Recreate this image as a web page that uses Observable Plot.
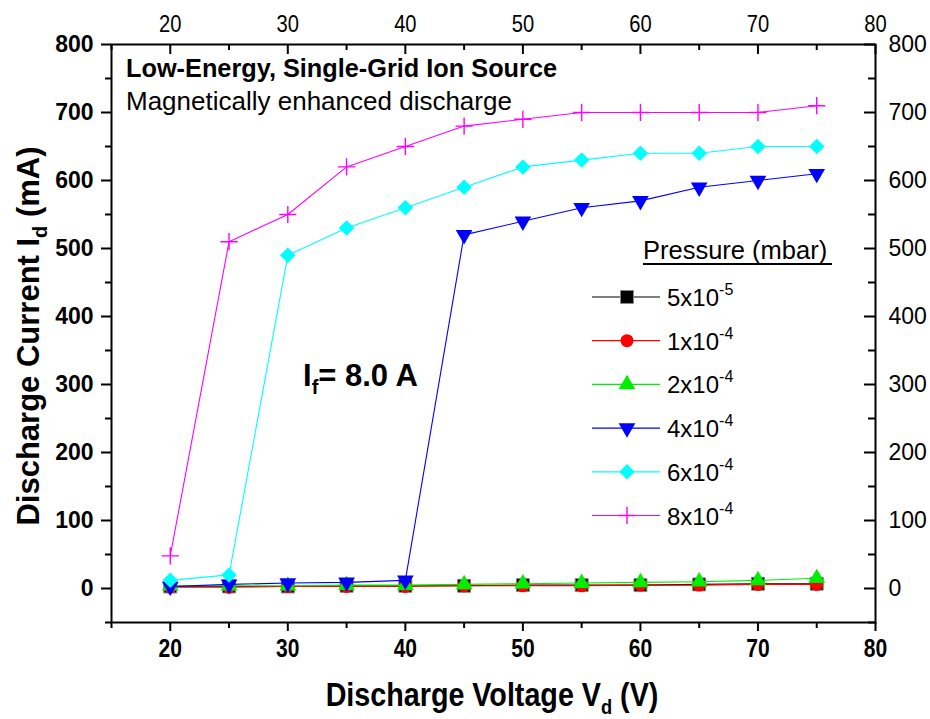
<!DOCTYPE html>
<html>
<head>
<meta charset="utf-8">
<script src="https://cdn.jsdelivr.net/npm/d3@7"></script>
<script src="https://cdn.jsdelivr.net/npm/@observablehq/plot@0.6"></script>
<style>
  html, body { margin: 0; padding: 0; background: #fff; }
  svg { display: block; }
</style>
</head>
<body>
<div id="chart"></div>
<script>
// ---------- data ----------
const voltages = [20, 25, 30, 35, 40, 45, 50, 55, 60, 65, 70, 75];
const p5e5 = [3, 3, 3, 4, 4, 4, 5, 5, 5, 6, 7, 7];
const p1e4 = [2, 2, 3, 3, 3, 4, 4, 4, 5, 5, 6, 6];
const p2e4 = [4, 4, 4, 5, 5, 6, 7, 8, 9, 10, 12, 15];
const p4e4 = [3, 6, 8, 9, 12, 520, 540, 560, 570, 590, 600, 610];
const p6e4 = [12, 20, 490, 530, 560, 590, 620, 630, 640, 640, 650, 650];
const p8e4 = [48, 510, 550, 620, 650, 680, 690, 700, 700, 700, 700, 710];

const seriesNames = ["5x10-5", "1x10-4", "2x10-4", "4x10-4", "6x10-4", "8x10-4"];
const seriesMant = ["5x10", "1x10", "2x10", "4x10", "6x10", "8x10"];
const seriesExp = ["-5", "-4", "-4", "-4", "-4", "-4"];
const seriesValues = [p5e5, p1e4, p2e4, p4e4, p6e4, p8e4];
const seriesColors = ["#000000", "#ff0000", "#00ee00", "#0000ff", "#00ffff", "#ff00ff"];

const xTicksMajor = [20, 30, 40, 50, 60, 70, 80];
const xTicksMinor = [15, 25, 35, 45, 55, 65, 75];
const yTicksMajor = [0, 100, 200, 300, 400, 500, 600, 700, 800];
const yTicksMinor = [-50, 50, 150, 250, 350, 450, 550, 650, 750];

// ---------- layout ----------
const W = 930, H = 719;
const mL = 111, mR = 55, mT = 44, mB = 97;
const frameW = W - mL - mR, frameH = H - mT - mB;
const font = "'Liberation Sans', Arial, sans-serif";

const rows = seriesValues.map((vals, i) =>
  vals.map((v, j) => ({x: voltages[j], y: v, s: i}))
);

const markerFor = (i, data) => {
  const c = seriesColors[i];
  switch (i) {
    case 0: return Plot.dot(data, {x: "x", y: "y", symbol: "square", r: 7.3, fill: c, stroke: "#888", strokeWidth: 1});
    case 1: return Plot.dot(data, {x: "x", y: "y", symbol: "circle", r: 6.5, fill: c});
    case 2: return Plot.dot(data, {x: "x", y: "y", symbol: "triangle", r: 6.2, fill: c});
    case 3: return Plot.dot(data, {x: "x", y: "y", symbol: "triangle", r: 6.2, fill: c, rotate: 180});
    case 4: return Plot.dot(data, {x: "x", y: "y", symbol: "square", r: 6.2, fill: c, rotate: 45});
    case 5: return Plot.dot(data, {x: "x", y: "y", symbol: "plus", r: 5.6, stroke: c, strokeWidth: 1.4, fill: "none"});
  }
};

const marks = [];
// axes
marks.push(Plot.axisX({anchor: "bottom", ticks: xTicksMajor, tickSize: 9, tickPadding: 8, strokeWidth: 2,
  fontSize: 25, fontWeight: "bold", label: null, className: "xbot"}));
marks.push(Plot.axisX({anchor: "bottom", ticks: xTicksMinor, tickSize: 6, strokeWidth: 2, tickFormat: () => "", label: null}));
marks.push(Plot.axisX({anchor: "top", ticks: xTicksMajor, tickSize: 0, tickPadding: 13,
  fontSize: 24, label: null, className: "xtop"}));
marks.push(Plot.ruleX(xTicksMajor, {x: d => d, insetBottom: frameH - 10, strokeWidth: 2}));
marks.push(Plot.ruleX(xTicksMinor, {x: d => d, insetBottom: frameH - 6, strokeWidth: 2}));
marks.push(Plot.axisY({anchor: "left", ticks: yTicksMajor, tickSize: 10, tickPadding: 8, strokeWidth: 2,
  fontSize: 23, fontWeight: "bold", label: null}));
marks.push(Plot.axisY({anchor: "left", ticks: yTicksMinor, tickSize: 6, strokeWidth: 2, tickFormat: () => "", label: null}));
marks.push(Plot.axisY({anchor: "right", ticks: yTicksMajor, tickSize: 0, tickPadding: 13,
  fontSize: 23, label: null}));
marks.push(Plot.ruleY(yTicksMajor, {y: d => d, insetLeft: frameW - 11, strokeWidth: 2}));
marks.push(Plot.ruleY(yTicksMinor, {y: d => d, insetLeft: frameW - 7, strokeWidth: 2}));
marks.push(Plot.frame({stroke: "#000", strokeWidth: 2}));

// series lines then markers, in order
rows.forEach((data, i) => {
  marks.push(Plot.line(data, {x: "x", y: "y", stroke: seriesColors[i], strokeWidth: 1.1}));
  marks.push(markerFor(i, data));
});

const plot = Plot.plot({
  width: W, height: H,
  marginLeft: mL, marginRight: mR, marginTop: mT, marginBottom: mB,
  x: {domain: [15, 80]},
  y: {domain: [-50, 800]},
  style: {fontFamily: font, background: "#fff", color: "#000"},
  marks
});
document.getElementById("chart").appendChild(plot);

// condensed look for x tick labels (Arial Narrow-like)
function narrowText(sel, k) {
  sel.each(function () {
    const w = this.getComputedTextLength();
    if (w > 0) {
      this.setAttribute("textLength", (w * k).toFixed(1));
      this.setAttribute("lengthAdjust", "spacingAndGlyphs");
    }
  });
}
narrowText(d3.select(plot).selectAll(".xbot text"), 0.84);
narrowText(d3.select(plot).selectAll(".xtop text"), 0.84);

// ---------- annotations ----------
const svg = d3.select(plot);

// y title
const yt = svg.append("text")
  .attr("transform", `translate(39, ${mT + frameH / 2 + 3}) rotate(-90)`)
  .attr("text-anchor", "middle")
  .attr("font-family", font).attr("font-weight", "bold").attr("font-size", 31).attr("fill", "#000");
yt.append("tspan").text("Discharge Current I");
yt.append("tspan").text("d").attr("font-size", 20).attr("dy", 8);
yt.append("tspan").text(" (mA)").attr("dy", -8);

// x title (condensed)
const xt = svg.append("g").attr("transform", `translate(${mL + frameW / 2 - 1}, 706) scale(0.87, 1)`)
  .append("text")
  .attr("text-anchor", "middle")
  .attr("font-family", font).attr("font-weight", "bold").attr("font-size", 33).attr("fill", "#000");
xt.append("tspan").text("Discharge Voltage V");
xt.append("tspan").text("d").attr("font-size", 21).attr("dy", 8);
xt.append("tspan").text(" (V)").attr("dy", -8);

// header texts
svg.append("text").attr("x", 126).attr("y", 77).attr("text-anchor", "start")
  .attr("font-family", font).attr("font-weight", "bold").attr("font-size", 25.3).attr("fill", "#000")
  .text("Low-Energy, Single-Grid Ion Source");
svg.append("text").attr("x", 126).attr("y", 110).attr("text-anchor", "start")
  .attr("font-family", font).attr("font-size", 26).attr("fill", "#000")
  .text("Magnetically enhanced discharge");

// I_f annotation
const it = svg.append("text").attr("x", 303).attr("y", 386).attr("text-anchor", "start")
  .attr("font-family", font).attr("font-weight", "bold").attr("font-size", 31).attr("fill", "#000");
it.append("tspan").text("I");
it.append("tspan").text("f").attr("font-size", 20).attr("dy", 8);
it.append("tspan").text("= 8.0 A").attr("dy", -8);

// legend
const lg = svg.append("g").attr("font-family", font).attr("fill", "#000").attr("text-anchor", "start");
lg.append("text").attr("x", 643).attr("y", 259).attr("font-size", 25.5).text("Pressure (mbar)");
lg.append("line").attr("x1", 643).attr("x2", 832).attr("y1", 264).attr("y2", 264).attr("stroke", "#000").attr("stroke-width", 2);
const legendY0 = 297, legendDy = 43.7;
const sym = [
  {t: d3.symbolSquare, size: 7.3 * 7.3 * Math.PI, fill: true, rot: 0},
  {t: d3.symbolCircle, size: 6.5 * 6.5 * Math.PI, fill: true, rot: 0},
  {t: d3.symbolTriangle, size: 6.2 * 6.2 * Math.PI, fill: true, rot: 0},
  {t: d3.symbolTriangle, size: 6.2 * 6.2 * Math.PI, fill: true, rot: 180},
  {t: d3.symbolSquare, size: 6.2 * 6.2 * Math.PI, fill: true, rot: 45},
  {t: d3.symbolPlus, size: 5.6 * 5.6 * Math.PI, fill: false, rot: 0}
];
seriesNames.forEach((name, i) => {
  const y = legendY0 + i * legendDy;
  const c = seriesColors[i];
  lg.append("line").attr("x1", 592).attr("x2", 660).attr("y1", y).attr("y2", y)
    .attr("stroke", c).attr("stroke-width", 1.2);
  const s = sym[i];
  const p = lg.append("path").attr("d", d3.symbol(s.t, s.size)())
    .attr("transform", `translate(627,${y}) rotate(${s.rot})`);
  if (s.fill) {
    p.attr("fill", c);
    if (i === 0) p.attr("stroke", "#888").attr("stroke-width", 1);
  } else {
    p.attr("fill", "none").attr("stroke", c).attr("stroke-width", 1.4);
  }
  const tx = lg.append("text").attr("x", 667).attr("y", y + 9).attr("font-size", 24);
  tx.append("tspan").text(seriesMant[i]);
  tx.append("tspan").text(seriesExp[i]).attr("font-size", 16).attr("dy", -11);
});
</script>
</body>
</html>
